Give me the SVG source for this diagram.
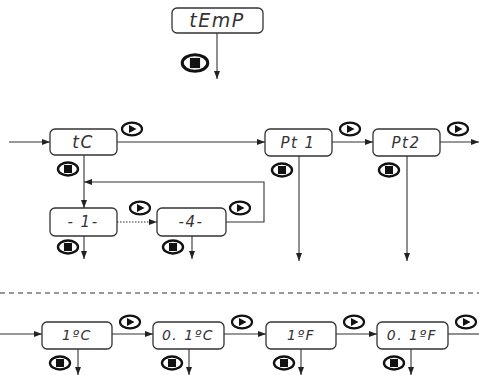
<svg xmlns="http://www.w3.org/2000/svg" width="479" height="375" viewBox="0 0 479 375">
<style>
.box{fill:#fff;stroke:#333;stroke-width:1.3}
.lbl{font-family:"DejaVu Sans","Liberation Sans",sans-serif;font-style:italic;font-size:15px;fill:#333;text-anchor:middle;letter-spacing:1.5px}
.ln{fill:none;stroke:#333;stroke-width:1.1}
.dot{fill:none;stroke:#333;stroke-width:1.1;stroke-dasharray:1.5 1.5}
.dash{fill:none;stroke:#333;stroke-width:1.1;stroke-dasharray:5 4}
</style>
<defs>
<marker id="ah" markerWidth="8" markerHeight="6" refX="8" refY="3" orient="auto" markerUnits="userSpaceOnUse">
<path d="M0,0 L8,3 L0,6 Z" fill="#222"/>
</marker>
<symbol id="play" viewBox="-11 -7 22 14" overflow="visible">
<ellipse cx="0" cy="0" rx="10" ry="6.3" fill="#fff" stroke="#111" stroke-width="2.2"/>
<path d="M-3,-4 L4.5,0 L-3,4 Z" fill="#111"/>
</symbol>
<symbol id="stop" viewBox="-11 -7 22 14" overflow="visible">
<ellipse cx="0" cy="0" rx="10" ry="6.5" fill="#fff" stroke="#111" stroke-width="2.4"/>
<rect x="-4" y="-4" width="8" height="8" fill="#111"/>
</symbol>
</defs>

<g id="connectors">
<path class="ln" d="M217,33 V79" marker-end="url(#ah)"/>
<path class="ln" d="M9,142 H50" marker-end="url(#ah)"/>
<path class="ln" d="M117,142 H265" marker-end="url(#ah)"/>
<path class="ln" d="M332,142 H373" marker-end="url(#ah)"/>
<path class="ln" d="M440,142 H479" marker-end="url(#ah)"/>
<path class="ln" d="M84,155 V208" marker-end="url(#ah)"/>
<path class="dot" d="M117,222 H157" marker-end="url(#ah)"/>
<path class="ln" d="M226,222 H264 V182 H84" marker-end="url(#ah)"/>
<path class="ln" d="M84,236 V259" marker-end="url(#ah)"/>
<path class="ln" d="M192,236 V259" marker-end="url(#ah)"/>
<path class="ln" d="M299,156 V261" marker-end="url(#ah)"/>
<path class="ln" d="M407,156 V261" marker-end="url(#ah)"/>
<path class="dash" d="M0,293 H479"/>
<path class="ln" d="M0,334 H42" marker-end="url(#ah)"/>
<path class="ln" d="M112,334 H153" marker-end="url(#ah)"/>
<path class="ln" d="M224,334 H266" marker-end="url(#ah)"/>
<path class="ln" d="M336,334 H377" marker-end="url(#ah)"/>
<path class="ln" d="M448,334 H479"/>
<path class="ln" d="M78,349 V375" marker-end="url(#ah)"/>
<path class="ln" d="M189,349 V375" marker-end="url(#ah)"/>
<path class="ln" d="M301,349 V375" marker-end="url(#ah)"/>
<path class="ln" d="M411,349 V375" marker-end="url(#ah)"/>
</g>

<g id="icons">
<use href="#stop" x="181" y="54" width="28" height="18"/>
<use href="#play" x="121" y="122" width="22" height="14"/>
<use href="#stop" x="57" y="162" width="22" height="14"/>
<use href="#play" x="129" y="201" width="22" height="14"/>
<use href="#play" x="229" y="201" width="22" height="14"/>
<use href="#stop" x="57" y="240" width="22" height="14"/>
<use href="#stop" x="162" y="240" width="22" height="14"/>
<use href="#play" x="339" y="122" width="22" height="14"/>
<use href="#play" x="447" y="122" width="22" height="14"/>
<use href="#stop" x="271" y="163" width="22" height="14"/>
<use href="#stop" x="378" y="163" width="22" height="14"/>
<use href="#play" x="119" y="315" width="22" height="14"/>
<use href="#play" x="231" y="315" width="22" height="14"/>
<use href="#play" x="343" y="315" width="22" height="14"/>
<use href="#play" x="455" y="315" width="22" height="14"/>
<use href="#stop" x="49" y="356" width="22" height="14"/>
<use href="#stop" x="161" y="356" width="22" height="14"/>
<use href="#stop" x="273" y="356" width="22" height="14"/>
<use href="#stop" x="383" y="356" width="22" height="14"/>
</g>

<g id="node-temp"><rect class="box" x="172" y="8" width="91" height="25" rx="5"/><text class="lbl" x="217" y="27" style="font-size:19px">tEmP</text></g>
<g id="node-tc"><rect class="box" x="50" y="129" width="67" height="26" rx="5"/><text class="lbl" x="83" y="148" style="font-size:17px">tC</text></g>
<g id="node-pt1"><rect class="box" x="265" y="129" width="67" height="27" rx="5"/><text class="lbl" x="298" y="148">Pt 1</text></g>
<g id="node-pt2"><rect class="box" x="373" y="129" width="67" height="27" rx="5"/><text class="lbl" x="406" y="148">Pt2</text></g>
<g id="node-1"><rect class="box" x="50" y="208" width="67" height="28" rx="5"/><text class="lbl" x="83" y="227">- 1-</text></g>
<g id="node-4"><rect class="box" x="157" y="208" width="69" height="28" rx="5"/><text class="lbl" x="191" y="227">-4-</text></g>
<g id="node-1c"><rect class="box" x="42" y="322" width="70" height="27" rx="5"/><text class="lbl" x="77" y="340" style="font-size:14px">1ºC</text></g>
<g id="node-01c"><rect class="box" x="153" y="322" width="71" height="27" rx="5"/><text class="lbl" x="188" y="340" style="font-size:14px">0. 1ºC</text></g>
<g id="node-1f"><rect class="box" x="266" y="322" width="70" height="27" rx="5"/><text class="lbl" x="301" y="340" style="font-size:14px">1ºF</text></g>
<g id="node-01f"><rect class="box" x="377" y="322" width="71" height="27" rx="5"/><text class="lbl" x="412" y="340" style="font-size:14px">0. 1ºF</text></g>
</svg>
